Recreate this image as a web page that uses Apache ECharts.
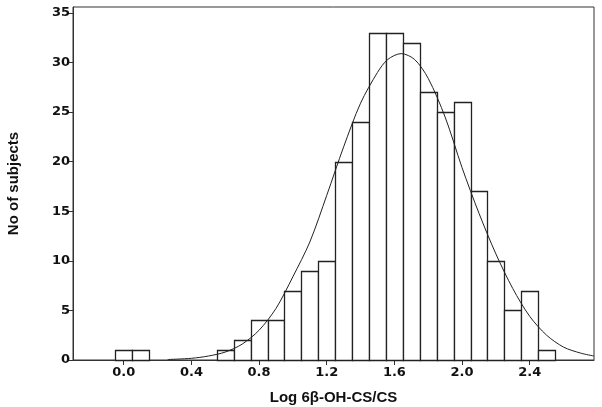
<!DOCTYPE html>
<html>
<head>
<meta charset="utf-8">
<script src="https://cdn.jsdelivr.net/npm/echarts@6/dist/echarts.min.js"></script>
<style>html,body{margin:0;padding:0;background:#fff}#c{width:602px;height:407px}</style>
</head>
<body>
<div id="c"></div>
<script>
// Histogram bins (centres) and counts
var binCenters = [0.0, 0.1, 0.6, 0.7, 0.8, 0.9, 1.0, 1.1, 1.2, 1.3, 1.4, 1.5, 1.6, 1.7, 1.8, 1.9, 2.0, 2.1, 2.2, 2.3, 2.4, 2.5];
var binCounts  = [1,   1,   1,   2,   4,   4,   7,   9,   10,  20,  24,  33,  33,  32,  27,  25,  26,  17,  10,  5,   7,   1];
var binWidth = 0.1;
// Fitted curve
var curveX = [0.26, 0.4, 0.5, 0.6, 0.7, 0.8, 0.9, 1.0, 1.1, 1.2, 1.3, 1.4, 1.5, 1.56, 1.64, 1.72, 1.8, 1.9, 2.0, 2.1, 2.2, 2.3, 2.4, 2.5, 2.6, 2.7, 2.78];
var curveY = [0.05, 0.17, 0.4, 0.8, 1.6, 3.0, 5.2, 8.4, 11.9, 16.6, 21.5, 25.9, 29.0, 30.3, 30.9, 30.3, 28.4, 24.5, 19.4, 14.8, 10.7, 7.2, 4.4, 2.5, 1.3, 0.7, 0.4];
// Tick labels
var xTicks = [0.0, 0.4, 0.8, 1.2, 1.6, 2.0, 2.4];
var yTicks = [0, 5, 10, 15, 20, 25, 30, 35];

var barData = binCenters.map(function (c, i) { return [c, binCounts[i]]; });
var lineData = curveX.map(function (x, i) { return [x, curveY[i]]; });

var chart = echarts.init(document.getElementById('c'), null, {renderer: 'canvas'});
var axisColor = '#333';
chart.setOption({
  animation: false,
  backgroundColor: '#fff',
  grid: {left: 73, right: 8, top: 7, bottom: 47, containLabel: false, outerBoundsMode: 'none',
    show: true, borderColor: axisColor, borderWidth: 1, backgroundColor: 'transparent'},
  xAxis: {
    type: 'value', min: -0.3, max: 2.78,
    name: 'Log 6β-OH-CS/CS', nameLocation: 'middle', nameGap: 30,
    nameTextStyle: {fontFamily: 'Liberation Sans', fontWeight: 'bold', fontSize: 15, color: '#111'},
    axisLine: {show: true, onZero: false, lineStyle: {color: axisColor, width: 1}},
    axisTick: {show: true, length: 5, customValues: xTicks, lineStyle: {color: axisColor}},
    axisLabel: {customValues: xTicks, margin: 6, fontFamily: 'DejaVu Sans', fontWeight: 'bold', fontSize: 13, color: '#111',
      formatter: function (v) { return v.toFixed(1); }},
    splitLine: {show: false}
  },
  yAxis: {
    type: 'value', min: 0, max: 35.6,
    name: 'No of subjects', nameLocation: 'middle', nameGap: 52,
    nameTextStyle: {fontFamily: 'Liberation Sans', fontWeight: 'bold', fontSize: 15, color: '#111'},
    axisLine: {show: true, onZero: false, lineStyle: {color: axisColor, width: 1}},
    axisTick: {show: true, length: 6, customValues: yTicks, lineStyle: {color: axisColor}},
    axisLabel: {customValues: yTicks, margin: 3, fontFamily: 'DejaVu Sans', fontWeight: 'bold', fontSize: 13, color: '#111'},
    splitLine: {show: false}
  },
  series: [
    {
      type: 'custom',
      data: barData,
      renderItem: function (params, api) {
        var c = api.value(0), v = api.value(1);
        var p1 = api.coord([c - binWidth / 2, v]);
        var p2 = api.coord([c + binWidth / 2, 0]);
        return {
          type: 'rect',
          shape: {x: Math.round(p1[0]) + 0.5, y: Math.round(p1[1]) + 0.5, width: Math.round(p2[0]) - Math.round(p1[0]), height: Math.round(p2[1]) - Math.round(p1[1])},
          style: {fill: '#fff', stroke: '#222', lineWidth: 1.3}
        };
      },
      z: 2
    },
    {
      type: 'line',
      data: lineData,
      smooth: 0.3,
      showSymbol: false,
      lineStyle: {color: '#222', width: 1},
      z: 3
    }
  ]
});
</script>
</body>
</html>
